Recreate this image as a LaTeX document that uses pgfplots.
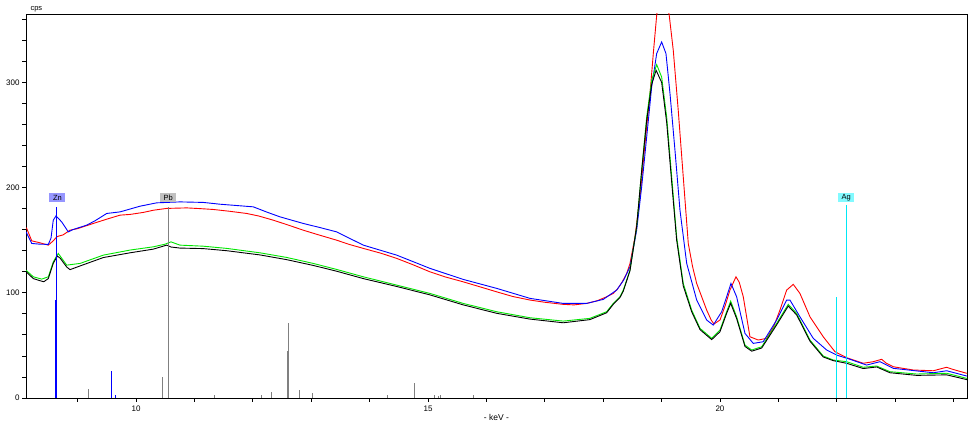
\documentclass[border=0pt]{standalone}
\usepackage{pgfplots}
\pgfplotsset{compat=1.18}
\usepackage{fontspec}
\setmainfont{Liberation Sans}
\definecolor{cblue}{RGB}{0,0,255}
\definecolor{cred}{RGB}{255,0,0}
\definecolor{cgreen}{RGB}{0,230,0}
\definecolor{stickgray}{RGB}{128,128,128}
\definecolor{agcyan}{RGB}{0,232,245}
\definecolor{znbox}{RGB}{150,150,255}
\definecolor{pbbox}{RGB}{192,192,192}
\definecolor{agbox}{RGB}{130,250,255}
\begin{document}
\begin{tikzpicture}
\useasboundingbox (0,0) rectangle (975pt,425pt);
\begin{axis}[
  at={(26pt,27pt)}, anchor=south west,
  scale only axis, width=941pt, height=384pt,
  xmin=8.116, xmax=24.23, ymin=0, ymax=365,
  xtick={10,15,20}, minor xtick={9,11,12,13,14,16,17,18,19,21,22,23,24},
  ytick={0,100,200,300}, minor ytick={20,40,60,80,120,140,160,180,220,240,260,280,320,340,360},
  tick align=outside, major tick length=4pt, minor tick length=4pt,
  xtick pos=bottom, ytick pos=left,
  tick style={black, line width=0.8pt},
  axis line style={line width=0.9pt},
  /pgf/number format/assume math mode=true,
  ticklabel style={font=\fontsize{8}{9}\selectfont},
  yticklabel style={xshift=1pt},
  clip=true,
]
% red
\addplot[cred, line width=0.9pt] coordinates {
(8.116,162)(8.128,161.2)(8.214,149.4)(8.356,147.5)(8.498,145.3)(8.583,149.4)(8.638,152.9)(8.669,153.8)(8.75,155)(8.869,159.5)(9.0,161)(9.268,165.9)(9.5,170)(9.726,173.8)(9.9,174.5)(10.125,176.4)(10.3,178.5)(10.525,180.2)(10.868,180.7)(11.1,180)(11.323,179.2)(11.6,177.5)(11.895,175.4)(12.1,173)(12.351,169.0)(12.6,164.5)(12.864,159.5)(13.1,155.5)(13.436,150.0)(13.65,146)(13.892,142.2)(14.2,137.5)(14.464,132.7)(14.75,126.5)(15.034,119.9)(15.3,115)(15.604,110.4)(15.9,105.5)(16.176,100.9)(16.45,96.5)(16.746,93.1)(17.0,91)(17.316,89.0)(17.5,88.5)(17.717,89.9)(17.9,92.5)(18.059,96.2)(18.172,99.4)(18.25,104)(18.314,109.2)(18.4,118)(18.459,127.9)(18.545,153.2)(18.631,191.2)(18.716,241.9)(18.802,289.4)(18.858,327.4)(18.916,363.7)(18.96,382)(19.02,392)(19.08,382)(19.131,363.7)(19.200,330.5)(19.285,273.5)(19.371,210.2)(19.457,146.9)(19.53,125)(19.601,108.9)(19.772,83.6)(19.85,74)(19.897,70.3)(20.0,74.1)(20.09,88)(20.171,102.6)(20.274,115.2)(20.33,110)(20.399,96.2)(20.513,58.2)(20.655,55.1)(20.799,56.7)(20.92,68)(21.027,83.6)(21.142,102.6)(21.255,108.0)(21.369,99.4)(21.541,77.2)(21.768,58.2)(21.969,44.0)(22.169,38.3)(22.453,33.0)(22.625,34.5)(22.768,36.8)(22.85,33)(22.967,29.7)(23.309,26.6)(23.652,25.9)(23.881,29.2)(24.0,27)(24.224,23.5)(24.23,23.5)
};
% blue
\addplot[cblue, line width=0.9pt] coordinates {
(8.116,158)(8.128,156.7)(8.214,146.9)(8.356,146.2)(8.498,146.0)(8.544,151.9)(8.583,169.0)(8.630,173.1)(8.727,167.4)(8.840,157.9)(8.926,160.2)(9.155,164.3)(9.3,168.5)(9.498,175.4)(9.726,176.9)(10.068,182.3)(10.354,185.5)(10.753,186.4)(11.152,185.9)(11.438,184.2)(12.008,181.7)(12.25,176.5)(12.465,172.2)(12.864,165.9)(13.15,162)(13.436,157.9)(13.892,145.3)(14.464,135.8)(15.034,123.2)(15.604,112.7)(16.176,104.2)(16.746,94.7)(17.316,89.9)(17.717,89.9)(18.001,93.7)(18.231,102.6)(18.35,112)(18.459,124.7)(18.573,159.5)(18.659,200.7)(18.745,248.1)(18.830,295.6)(18.916,327.4)(19.001,338.4)(19.075,327.4)(19.144,289.4)(19.229,235.5)(19.315,178.5)(19.430,127.9)(19.601,93.1)(19.772,74.1)(19.885,69.3)(20.029,82.0)(20.114,96.2)(20.188,108.9)(20.285,96.2)(20.428,61.4)(20.570,51.9)(20.741,53.5)(20.970,74.1)(21.141,93.1)(21.198,93.1)(21.369,77.2)(21.597,56.7)(21.827,45.6)(21.998,40.8)(22.226,36.8)(22.511,31.3)(22.740,34.5)(22.967,28.2)(23.652,24.0)(23.882,25.9)(24.224,20.9)(24.23,20.9)
};
% green
\addplot[cgreen, line width=0.9pt] coordinates {
(8.116,121.5)(8.128,120.9)(8.241,115.2)(8.385,113.0)(8.498,115.2)(8.583,129.4)(8.630,133.9)(8.669,137.4)(8.813,126.3)(9.041,127.9)(9.440,135.8)(9.897,140.6)(10.296,143.7)(10.496,146.2)(10.599,148.4)(10.753,145.3)(11.152,144.3)(11.553,142.2)(12.123,138.0)(12.580,133.6)(13.036,127.9)(13.436,122.2)(13.892,115.2)(14.464,107.3)(15.034,99.4)(15.604,89.9)(16.176,82.0)(16.746,76.3)(17.316,73.1)(17.772,75.7)(18.059,82.0)(18.172,89.9)(18.287,96.2)(18.344,102.6)(18.459,121.6)(18.573,162.7)(18.659,216.5)(18.745,267.1)(18.830,302.0)(18.916,316.9)(19.001,305.1)(19.087,267.1)(19.173,210.2)(19.258,153.2)(19.371,108.9)(19.515,83.6)(19.658,66.2)(19.858,56.7)(20.000,64.6)(20.114,82.0)(20.183,92.1)(20.285,77.2)(20.428,50.3)(20.543,45.6)(20.714,48.7)(20.970,70.9)(21.169,89.0)(21.313,80.4)(21.541,55.1)(21.768,39.9)(21.939,36.1)(22.169,34.5)(22.453,29.2)(22.683,30.4)(22.911,25.0)(23.368,22.8)(23.882,23.5)(24.224,18.7)(24.23,18.7)
};
% black
\addplot[black, line width=0.9pt] coordinates {
(8.116,120)(8.128,119.5)(8.241,113.5)(8.356,111.5)(8.42,110.5)(8.498,113.5)(8.583,128)(8.652,134.9)(8.70,133)(8.813,124.5)(8.87,122)(9.041,125.5)(9.44,133.5)(9.897,138)(10.296,141.5)(10.525,145.3)(10.6,143.5)(10.753,142.5)(11.152,142)(11.553,140)(12.123,136)(12.58,131.5)(13.036,126)(13.436,120.5)(13.892,113.5)(14.464,106)(15.034,98)(15.604,88.5)(16.176,80.5)(16.746,75)(17.316,71.5)(17.772,74.5)(18.059,81)(18.172,89)(18.287,95.5)(18.344,101.5)(18.459,121)(18.573,163)(18.659,216)(18.745,264)(18.830,298)(18.906,311.5)(19.001,300)(19.087,262)(19.173,205)(19.258,150)(19.371,106.5)(19.515,82)(19.658,65)(19.858,55.5)(20.0,63)(20.114,80.5)(20.183,90)(20.285,75.5)(20.428,49)(20.543,44.5)(20.714,47.5)(20.97,69.5)(21.169,87.4)(21.313,79)(21.541,54)(21.768,39)(21.939,35.5)(22.169,33)(22.453,28)(22.683,29.5)(22.911,24)(23.368,21.5)(23.882,22)(24.224,17.5)(24.23,17.5)
};
% element line markers
\addplot[stickgray, line width=0.8pt, ycomb, mark=none] coordinates {
(9.18,9)(10.45,20)(10.55,182)(11.35,3)(12.14,3)(12.31,6)(12.585,45)(12.615,71.5)(12.80,8)(13.02,5)(14.31,3)(14.765,14)(15.11,3)(15.18,2)(15.21,3)(15.77,3)
};
\addplot[cblue, line width=0.8pt, ycomb, mark=none] coordinates {
(8.616,93)(8.627,93)(8.639,182)(9.572,26)(9.645,3)
};
\addplot[agcyan, line width=1pt, ycomb, mark=none] coordinates {
(21.99,96)(22.163,183)
};
\node[fill=znbox, minimum width=16pt, minimum height=9pt, inner sep=0pt, font=\fontsize{7.5}{8}\selectfont] at (axis cs:8.655,190.5) {Zn};
\node[fill=pbbox, minimum width=16pt, minimum height=9pt, inner sep=0pt, font=\fontsize{7.5}{8}\selectfont] at (axis cs:10.55,190.5) {Pb};
\node[fill=agbox, minimum width=16pt, minimum height=9pt, inner sep=0pt, font=\fontsize{7.5}{8}\selectfont] at (axis cs:22.163,190.5) {Ag};
\end{axis}
\node[font=\fontsize{7.5}{8}\selectfont, anchor=west] at (27pt,416pt) {cps};
\node[font=\fontsize{8.5}{9}\selectfont] at (496.5pt,7.5pt) {- keV -};
\end{tikzpicture}
\end{document}
